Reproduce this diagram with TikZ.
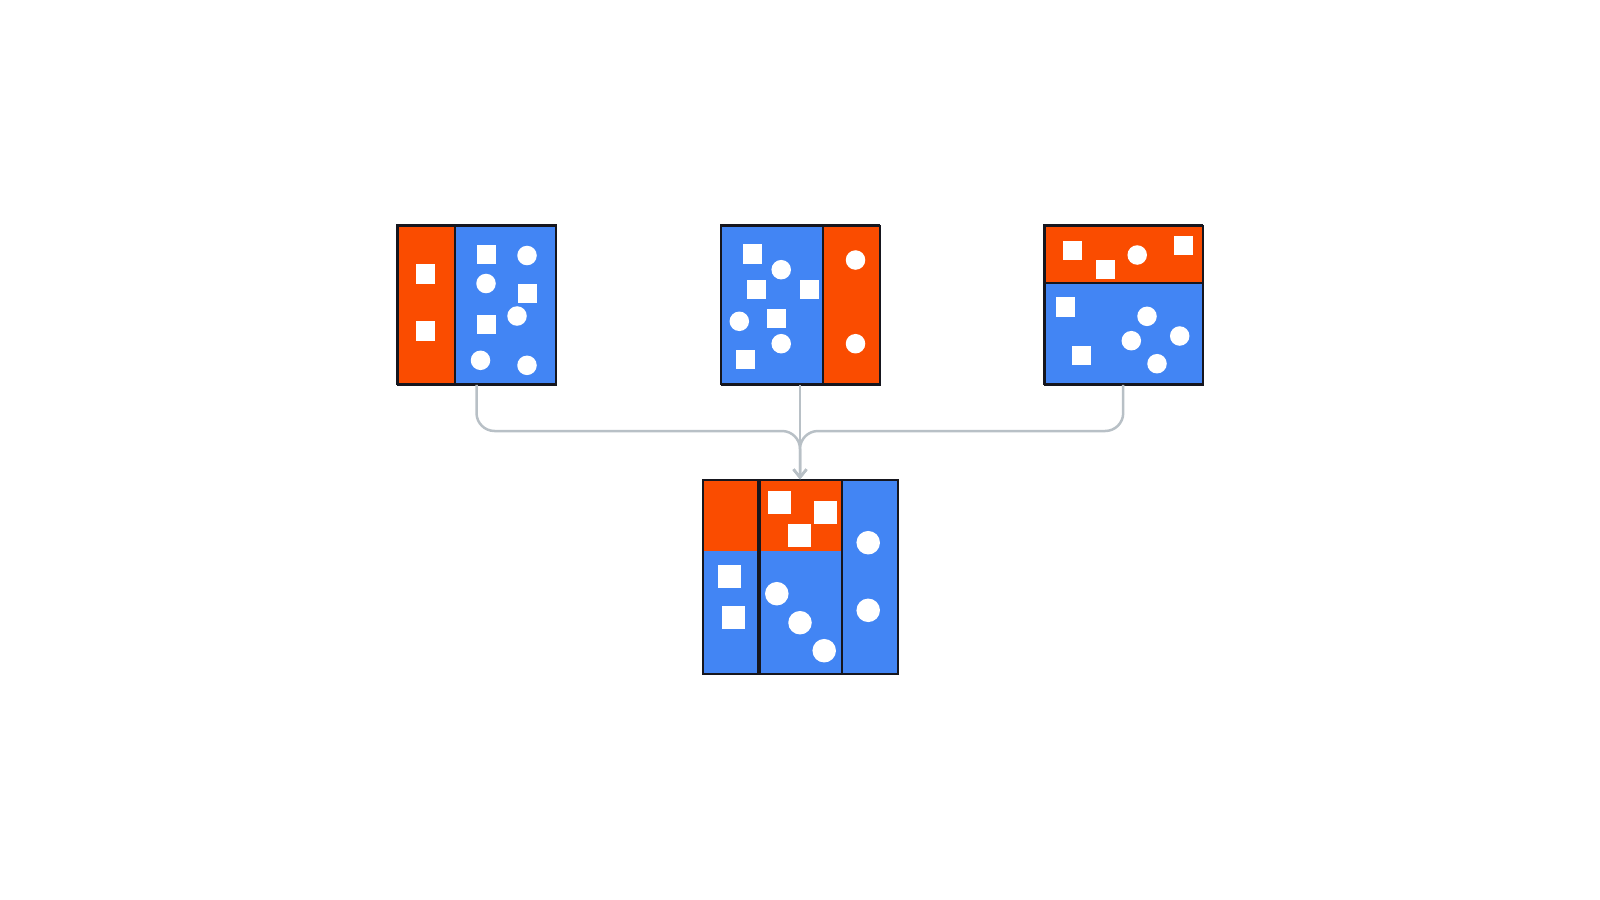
\documentclass[tikz,border=0pt]{standalone}
\usepackage{tikz}
\usetikzlibrary{arrows.meta}
\definecolor{tangerine}{RGB}{250,76,0}
\definecolor{azure}{RGB}{66,133,244}
\definecolor{linkgrey}{RGB}{184,192,198}
\definecolor{edge}{RGB}{22,22,30}
\begin{document}
\begin{tikzpicture}[x=0.01cm,y=-0.01cm,
	part/.style={draw=edge,line width=0.17mm,inner sep=0pt,anchor=north west},
	frame/.style={draw=edge,line width=0.17mm,inner sep=0pt,minimum height=15.9mm},
	halved/.style={path picture={\fill[tangerine] (path picture bounding box.north west) rectangle ([yshift=-7.07mm]path picture bounding box.north east);}},
	sq/.style={fill=white,inner sep=0pt,minimum size=#1},
	sq/.default=1.9mm,
	dot/.style={circle,fill=white,inner sep=0pt,minimum size=#1},
	dot/.default=1.95mm,
	link/.style={draw=linkgrey,line width=0.25mm,rounded corners=1.8mm,-{Straight Barb[length=0.8mm,width=1.3mm]}}]
\useasboundingbox (0,0) rectangle (1600,900);

% upper boxes
\node[part,fill=tangerine,minimum width=5.67mm,minimum height=15.9mm] (b1o) at (397.3,225) {};
\node[part,fill=azure,minimum width=10.17mm,minimum height=15.9mm] (b1b) at (454,225) {};
\node[frame,minimum width=15.84mm] (b1) at (476.5,304.5) {};

\node[part,fill=azure,minimum width=10.13mm,minimum height=15.9mm] (b2b) at (720.7,225) {};
\node[part,fill=tangerine,minimum width=5.73mm,minimum height=15.9mm] (b2o) at (822,225) {};
\node[frame,minimum width=15.86mm] (b2) at (800,304.5) {};

\node[part,fill=tangerine,minimum width=15.83mm,minimum height=5.73mm] (b3o) at (1044,225) {};
\node[part,fill=azure,minimum width=15.83mm,minimum height=10.17mm] (b3b) at (1044,282.3) {};
\node[frame,minimum width=15.83mm] (b3) at (1123.2,304.5) {};

% merged box
\node[part,fill=azure,halved,minimum width=5.47mm,minimum height=19.4mm] (b4a) at (702.3,479.3) {};
\node[part,fill=azure,halved,minimum width=8.16mm,minimum height=19.4mm] (b4b) at (759.2,479.3) {};
\node[part,fill=azure,minimum width=5.6mm,minimum height=19.4mm] (b4c) at (841.3,479.3) {};

\foreach \x/\y [count=\i] in {425.5/274,425.5/331,486.2/254.5,527/293.5,486/324.5,
	752.5/254,756.2/289.5,809.5/289.5,776.8/318.8,745.8/359.8,
	1072.2/250.2,1105.8/269.2,1183.8/245.2,1065.7/307,1081.8/355.8}
	\node[sq] (s\i) at (\x,\y) {};
\foreach \x/\y [count=\i] in {527/255.5,486/283.5,517/316,480.5/360.3,527/365.3,
	781.2/269.7,739.3/321.3,781.2/343.7,855.5/260,855.5/343.7,
	1137.2/255,1147/316.3,1131.3/340.7,1179.7/336,1157/363.7}
	\node[dot] (c\i) at (\x,\y) {};
\foreach \x/\y [count=\i] in {729.8/576.5,733.3/617.5,779/502.5,825.8/512.7,799.5/535.5}
	\node[sq=2.3mm] (m\i) at (\x,\y) {};
\foreach \x/\y [count=\i] in {776.8/593.7,800/622.7,824.2/650.7,868.2/542.7,868.2/610.3}
	\node[dot=2.35mm] (n\i) at (\x,\y) {};

% connectors
\coordinate (merge) at (b2.south |- 0,431);
\coordinate (into) at (b2.south |- b4b.north);
\draw[link] (b1.south) |- (merge) -- (into);
\draw[link] (b3.south) |- (merge) -- (into);
\draw[link] (b2.south) -- (into);
\end{tikzpicture}
\end{document}
